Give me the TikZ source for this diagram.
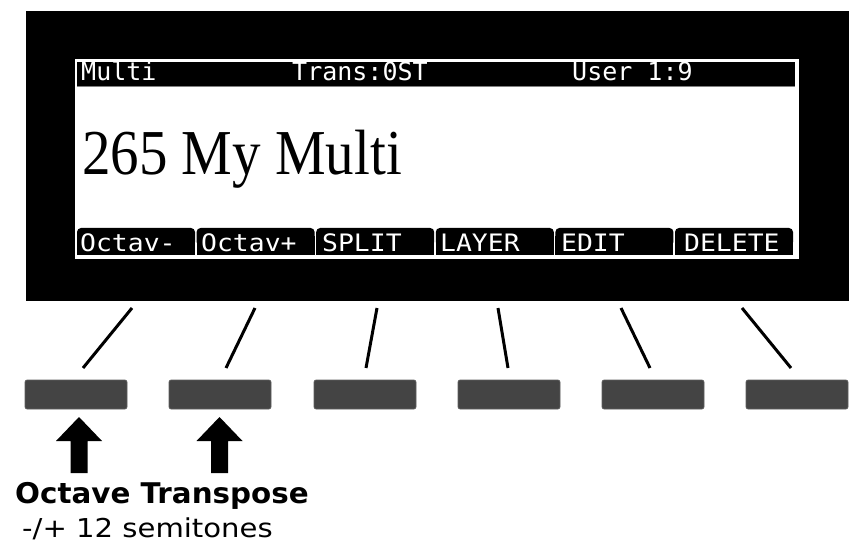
\documentclass[tikz,border=0pt]{standalone}
\usepackage{fontspec}
\setmainfont{DejaVu Sans}
\newfontfamily\lcdfont{DejaVu Sans Mono}
\newfontfamily\bigserif{Liberation Serif}
\definecolor{btngray}{HTML}{444444}
\begin{document}
\begin{tikzpicture}[x=1pt,y=-1pt,
  btn/.style={fill=btngray, draw=btngray!85!white, line width=0.6pt, rounded corners=2pt, minimum width=102pt, minimum height=29pt, inner sep=0pt},
  link/.style={line width=3pt},
  lcdtop/.style={anchor=base west, inner sep=0pt, text=white, font=\lcdfont\fontsize{25}{25}\selectfont},
  lcdtab/.style={anchor=base west, inner sep=0pt, text=white, font=\lcdfont\fontsize{24}{24}\selectfont},
  plain/.style={anchor=base west, inner sep=0pt}
]
\useasboundingbox (0,0) rectangle (849,545);
\fill[white] (0,0) rectangle (849,545);
% panel and screen
\fill[black] (26,11) rectangle (849,301);
\fill[white] (75,59) rectangle (799,259);
\fill[black] (77,62) rectangle (795,86);
\draw[gray, line width=0.8pt] (77,86.4) -- (795,86.4);
% top bar texts
\node[lcdtop] (tmulti) at (81,81) {\scalebox{1.0}[1]{Multi}};
\node[lcdtop] (ttrans) at (292,81) {\scalebox{1.0}[1]{Trans:0ST}};
\node[lcdtop] (tuser) at (572,81) {\scalebox{1.0}[1]{User 1:9}};
% big title
\node[plain, font=\bigserif\fontsize{64}{64}\selectfont] (title) at (82,175) {\scalebox{0.89}[1]{265 My Multi}};
% soft key tabs
\foreach \k in {0,...,5}{
  \pgfmathsetmacro\xa{77+119.6*\k}
  \pgfmathsetmacro\xb{\xa+118}
  \fill[black] (\xa,236) rectangle (\xb,255);
  \fill[black, rounded corners=4pt] (\xa,228) rectangle (\xb,246);
}
\node[lcdtab] (k1) at (80,252) {\scalebox{1.1}[1]{Octav-}};
\node[lcdtab] (k2) at (201,252) {\scalebox{1.1}[1]{Octav+}};
\node[lcdtab] (k3) at (322,252) {\scalebox{1.1}[1]{SPLIT}};
\node[lcdtab] (k4) at (440,252) {\scalebox{1.1}[1]{LAYER}};
\node[lcdtab] (k5) at (561,252) {\scalebox{1.1}[1]{EDIT}};
\node[lcdtab] (k6) at (684,252) {\scalebox{1.1}[1]{DELETE}};
% buttons
\node[btn] (b1) at (76,394.5) {};
\node[btn] (b2) at (220,394.5) {};
\node[btn] (b3) at (365,394.5) {};
\node[btn] (b4) at (509,394.5) {};
\node[btn] (b5) at (653,394.5) {};
\node[btn] (b6) at (797,394.5) {};
% link lines
\coordinate (t1) at (132,308); \coordinate (e1) at (83,368);
\coordinate (t2) at (255,308); \coordinate (e2) at (226,368);
\coordinate (t3) at (377,308); \coordinate (e3) at (366,368);
\coordinate (t4) at (498,308); \coordinate (e4) at (508,368);
\coordinate (t5) at (621,308); \coordinate (e5) at (650,368);
\coordinate (t6) at (742,308); \coordinate (e6) at (791,368);
\foreach \i in {1,...,6}{\draw[link] (t\i) -- (e\i);}
% arrows
\coordinate (s1) at (79,473);
\coordinate (s2) at (219.5,473);
\foreach \s in {s1,s2}{
  \fill[black] (\s) ++(-8.5,0) -- ++(0,-32) -- ++(-14.5,0) -- ++(23,-24) -- ++(23,24) -- ++(-14.5,0) -- ++(0,32) -- cycle;
}
% labels
\node[plain, font=\bfseries\fontsize{28.5}{28.5}\selectfont] (lbl) at (15,503) {\scalebox{1.03}[1]{Octave Transpose}};
\node[plain, font=\fontsize{26}{26}\selectfont] (sub) at (22,537) {\scalebox{1.12}[1]{-/+ 12 semitones}};
\end{tikzpicture}
\end{document}
